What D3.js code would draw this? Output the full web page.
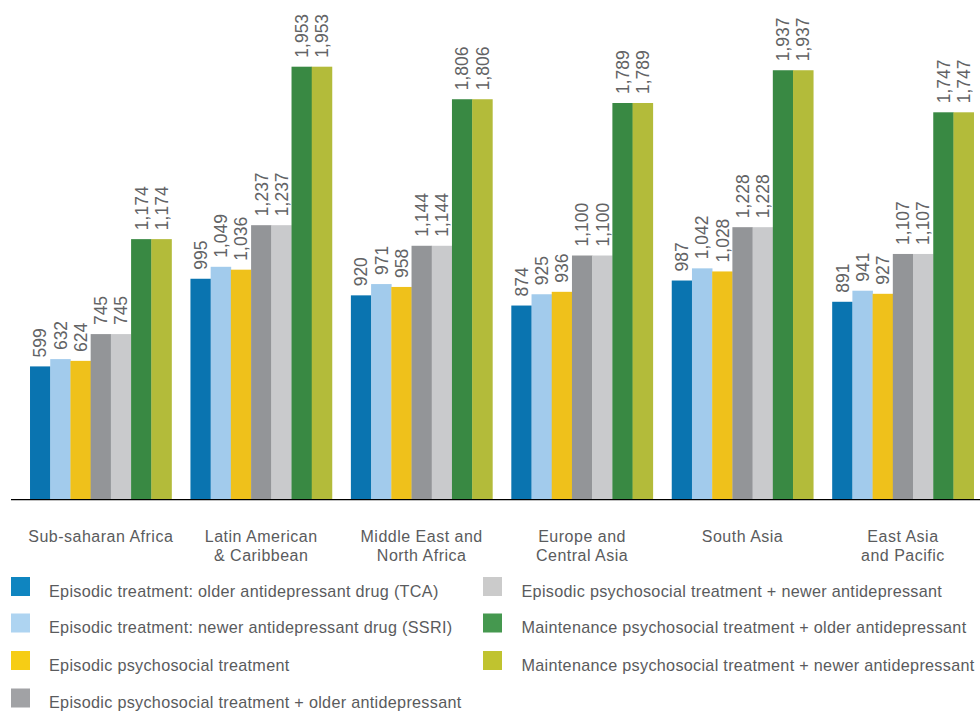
<!DOCTYPE html>
<html>
<head>
<meta charset="utf-8">
<script src="https://cdn.jsdelivr.net/npm/d3@7"></script>
<style>
  html, body { margin: 0; padding: 0; background: #fff; }
  svg { display: block; font-family: "Liberation Sans", Arial, Helvetica, sans-serif; }
</style>
</head>
<body>
<svg id="chart" width="980" height="711"></svg>
<script>
// Regions shown along the x axis (line breaks marked with \n)
const regions = [
  "Sub-saharan Africa",
  "Latin American\n& Caribbean",
  "Middle East and\nNorth Africa",
  "Europe and\nCentral Asia",
  "South Asia",
  "East Asia\nand Pacific"
];

// Treatment packages, in bar order within each region
const treatments = [
  "Episodic treatment: older antidepressant drug (TCA)",
  "Episodic treatment: newer antidepressant drug (SSRI)",
  "Episodic psychosocial treatment",
  "Episodic psychosocial treatment + older antidepressant",
  "Episodic psychosocial treatment + newer antidepressant",
  "Maintenance psychosocial treatment + older antidepressant",
  "Maintenance psychosocial treatment + newer antidepressant"
];

// One array per treatment, one value per region
const tca            = [599, 995, 920, 874, 987, 891];
const ssri           = [632, 1049, 971, 925, 1042, 941];
const psychosocial   = [624, 1036, 958, 936, 1028, 927];
const psychoOlder    = [745, 1237, 1144, 1100, 1228, 1107];
const psychoNewer    = [745, 1237, 1144, 1100, 1228, 1107];
const maintOlder     = [1174, 1953, 1806, 1789, 1937, 1747];
const maintNewer     = [1174, 1953, 1806, 1789, 1937, 1747];
const seriesValues = [tca, ssri, psychosocial, psychoOlder, psychoNewer, maintOlder, maintNewer];

const barColors    = ["#0a74b0", "#a2cbec", "#efc11b", "#939598", "#c9cacc", "#398943", "#b3bb3a"];
const legendColors = ["#0f85c0", "#aed4f1", "#f6cd15", "#a1a2a5", "#cbcbcb", "#45984f", "#c0c32f"];

const svg = d3.select("#chart");
const textColor = "#5a5b5d";

// Scales
const x0 = d3.scaleBand()
  .domain(regions)
  .range([20.55, 983.15])
  .paddingInner(0.118)
  .paddingOuter(0.059);

const x1 = d3.scaleBand()
  .domain(d3.range(treatments.length))
  .range([0, x0.bandwidth()]);

const y = d3.scaleLinear()
  .domain([0, 1953])
  .range([499, 66.7]);

// Baseline
svg.append("line")
  .attr("x1", 11).attr("x2", 980)
  .attr("y1", 499.6).attr("y2", 499.6)
  .attr("stroke", "#000").attr("stroke-width", 1.3);

// Bars
const groups = svg.append("g").selectAll("g")
  .data(regions)
  .join("g")
  .attr("transform", d => `translate(${x0(d)},0)`);

const fmt = d3.format(",");

groups.each(function(region, ri) {
  const g = d3.select(this);
  const cells = treatments.map((t, si) => ({ si, v: seriesValues[si][ri] }));
  g.selectAll("rect")
    .data(cells)
    .join("rect")
    .attr("x", d => x1(d.si))
    .attr("width", x1.bandwidth() + 0.3)
    .attr("y", d => y(d.v))
    .attr("height", d => y(0) - y(d.v))
    .attr("fill", d => barColors[d.si]);

  g.selectAll("text")
    .data(cells)
    .join("text")
    .attr("transform", d => `translate(${x1(d.si) + x1.bandwidth() / 2},${y(d.v) - 9}) rotate(-90)`)
    .attr("dy", "0.36em")
    .attr("text-anchor", "start")
    .attr("font-size", 17.5)
    .attr("fill", "#626365")
    .text(d => fmt(d.v));
});

// Region labels
const xLabels = svg.append("g").selectAll("text")
  .data(regions)
  .join("text")
  .attr("x", d => x0(d) + x0.bandwidth() / 2)
  .attr("y", 541.5)
  .attr("text-anchor", "middle")
  .attr("font-size", 16)
  .attr("letter-spacing", 0.5)
  .attr("fill", textColor);
xLabels.each(function(d) {
  const t = d3.select(this);
  d.split("\n").forEach((line, i) => {
    t.append("tspan")
      .attr("x", x0(d) + x0.bandwidth() / 2)
      .attr("dy", i === 0 ? 0 : 19.2)
      .text(line);
  });
});

// Legend: two columns
const legendCols = [{ sx: 11, tx: 49 }, { sx: 483, tx: 521.5 }];
const legendRows = [577, 613.5, 651, 688.5];
const legendItems = treatments.map((t, i) => {
  const col = i < 4 ? 0 : 1;
  const row = i < 4 ? i : i - 4;
  return { t, i, col, row };
});
const legend = svg.append("g").selectAll("g")
  .data(legendItems)
  .join("g")
  .attr("transform", d => `translate(0,${legendRows[d.row]})`);
legend.append("rect")
  .attr("x", d => legendCols[d.col].sx)
  .attr("y", 0)
  .attr("width", 19)
  .attr("height", 19)
  .attr("fill", d => legendColors[d.i]);
legend.append("text")
  .attr("x", d => legendCols[d.col].tx)
  .attr("y", 19.5)
  .attr("font-size", 16.2)
  .attr("letter-spacing", 0.3)
  .attr("fill", textColor)
  .text(d => d.t);
</script>
</body>
</html>
